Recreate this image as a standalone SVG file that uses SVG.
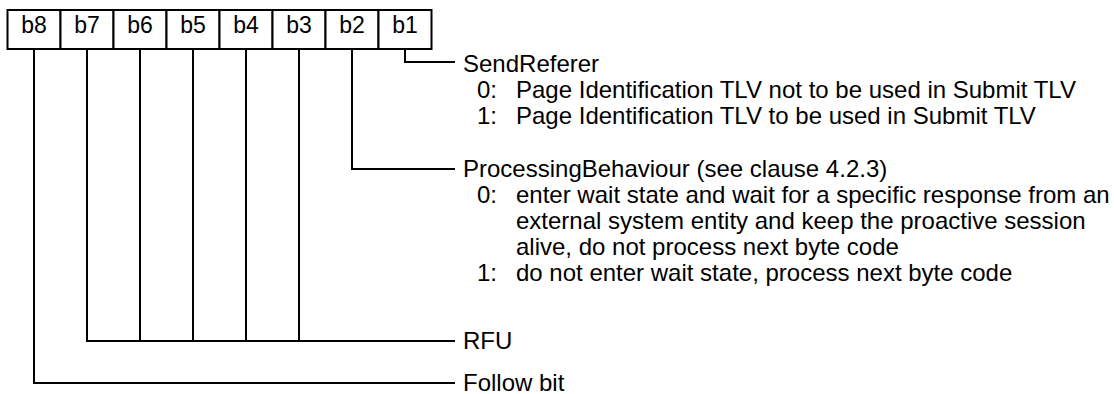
<svg xmlns="http://www.w3.org/2000/svg" width="1114" height="394" viewBox="0 0 1114 394">
<style>
.cell{fill:#fff;stroke:#000;stroke-width:2}
.ct{font-family:"Liberation Sans",Arial,sans-serif;font-size:23px;fill:#000;text-anchor:middle}
.t{font-family:"Liberation Sans",Arial,sans-serif;font-size:24px;fill:#000}
.c{fill:none;stroke:#000;stroke-width:2}
</style>
<rect width="1114" height="394" fill="#fff"/>
<g id="bits">
<g id="b8"><rect class="cell" x="7.5" y="10" width="53" height="39"/><text class="ct" x="34" y="33">b8</text></g>
<g id="b7"><rect class="cell" x="60.5" y="10" width="53" height="39"/><text class="ct" x="87" y="33">b7</text></g>
<g id="b6"><rect class="cell" x="113.5" y="10" width="53" height="39"/><text class="ct" x="140" y="33">b6</text></g>
<g id="b5"><rect class="cell" x="166.5" y="10" width="53" height="39"/><text class="ct" x="193" y="33">b5</text></g>
<g id="b4"><rect class="cell" x="219.5" y="10" width="53" height="39"/><text class="ct" x="246" y="33">b4</text></g>
<g id="b3"><rect class="cell" x="272.5" y="10" width="53" height="39"/><text class="ct" x="299" y="33">b3</text></g>
<g id="b2"><rect class="cell" x="325.5" y="10" width="53" height="39"/><text class="ct" x="352" y="33">b2</text></g>
<g id="b1"><rect class="cell" x="378.5" y="10" width="53" height="39"/><text class="ct" x="405" y="33">b1</text></g>
</g>
<g id="connectors">
<polyline class="c" points="405,49 405,62 455,62"/>
<polyline class="c" points="352,49 352,169 455,169"/>
<polyline class="c" points="87,49 87,341 455,341"/>
<line class="c" x1="140" y1="49" x2="140" y2="341"/>
<line class="c" x1="193" y1="49" x2="193" y2="341"/>
<line class="c" x1="246" y1="49" x2="246" y2="341"/>
<line class="c" x1="299" y1="49" x2="299" y2="341"/>
<polyline class="c" points="34,49 34,383 455,383"/>
</g>
<g id="sendreferer">
<text class="t" x="463" y="72">SendReferer</text>
<text class="t" x="477" y="98">0:</text><text class="t" x="516" y="98">Page Identification TLV not to be used in Submit TLV</text>
<text class="t" x="477" y="124">1:</text><text class="t" x="516" y="124">Page Identification TLV to be used in Submit TLV</text>
</g>
<g id="processing">
<text class="t" x="463" y="177">ProcessingBehaviour (see clause 4.2.3)</text>
<text class="t" x="477" y="203">0:</text><text class="t" x="516" y="203">enter wait state and wait for a specific response from an</text>
<text class="t" x="516" y="229">external system entity and keep the proactive session</text>
<text class="t" x="516" y="255">alive, do not process next byte code</text>
<text class="t" x="477" y="281">1:</text><text class="t" x="516" y="281">do not enter wait state, process next byte code</text>
</g>
<g id="rfu"><text class="t" x="463" y="349">RFU</text></g>
<g id="follow"><text class="t" x="463" y="391">Follow bit</text></g>
</svg>
